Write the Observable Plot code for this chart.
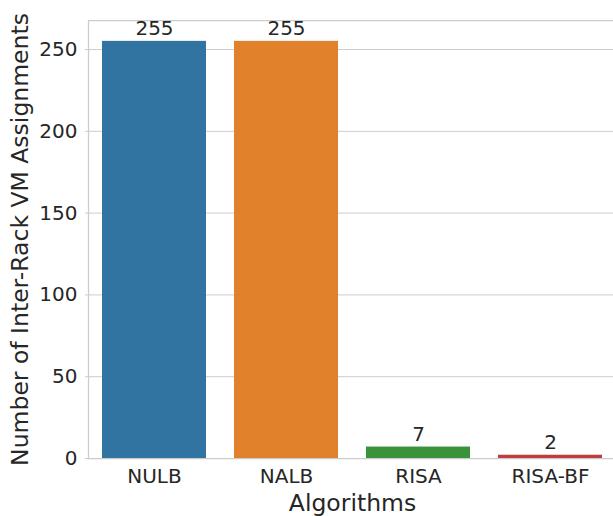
<!DOCTYPE html>
<html>
<head>
<meta charset="utf-8">
<script src="https://cdn.jsdelivr.net/npm/d3@7"></script>
<script src="https://cdn.jsdelivr.net/npm/@observablehq/plot@0.6"></script>
<style>
  body { margin: 0; background: #fff; }
  #chart svg { display: block; }
</style>
</head>
<body>
<div id="chart"></div>
<script>
const algorithms = ["NULB", "NALB", "RISA", "RISA-BF"];
const assignments = [255, 255, 7, 2];
const barColors = ["#3274a1", "#e1812c", "#3a923a", "#c03d3e"];
const yTicks = [0, 50, 100, 150, 200, 250];

const data = algorithms.map((a, i) => ({algorithm: a, value: assignments[i]}));

const chart = Plot.plot({
  width: 613,
  height: 516,
  marginLeft: 88,
  marginRight: -3,
  marginTop: 20,
  marginBottom: 58,
  style: {fontFamily: "DejaVu Sans", fontSize: "20px", color: "#262626", background: "#fff", overflow: "visible"},
  x: {domain: algorithms, paddingInner: 0.21, paddingOuter: 0.105, label: null},
  y: {domain: [0, 267.75], label: null},
  color: {domain: algorithms, range: barColors},
  marks: [
    Plot.gridY(yTicks, {stroke: "#cccccc", strokeOpacity: 1, strokeWidth: 1}),
    Plot.barY(data, {x: "algorithm", y: "value", fill: "algorithm"}),
    Plot.ruleY([0], {stroke: "#cccccc", strokeWidth: 1.25}),
    Plot.ruleY([267.75], {stroke: "#cccccc", strokeWidth: 1.25}),
    Plot.frame({anchor: "left", stroke: "#cccccc", strokeWidth: 1.25}),
    Plot.text(data, {x: "algorithm", y: "value", text: d => String(d.value), dy: -6, lineAnchor: "bottom", fontSize: 20, fill: "#262626"}),
    Plot.axisY(yTicks, {tickSize: 3, tickPadding: 8, stroke: "#cccccc", fontSize: 20, fill: "#262626", label: null}),
    Plot.axisX({tickSize: 0, tickPadding: 10, fontSize: 20, fill: "#262626", label: null}),
    Plot.text(["Number of Inter-Rack VM Assignments"], {frameAnchor: "left", dx: -68, rotate: -90, textAnchor: "middle", lineAnchor: "middle", fontSize: 23.5, fill: "#262626"}),
    Plot.text(["Algorithms"], {frameAnchor: "bottom", dy: 45, textAnchor: "middle", lineAnchor: "middle", fontSize: 23.5, fill: "#262626"})
  ]
});
document.getElementById("chart").append(chart);
</script>
</body>
</html>
